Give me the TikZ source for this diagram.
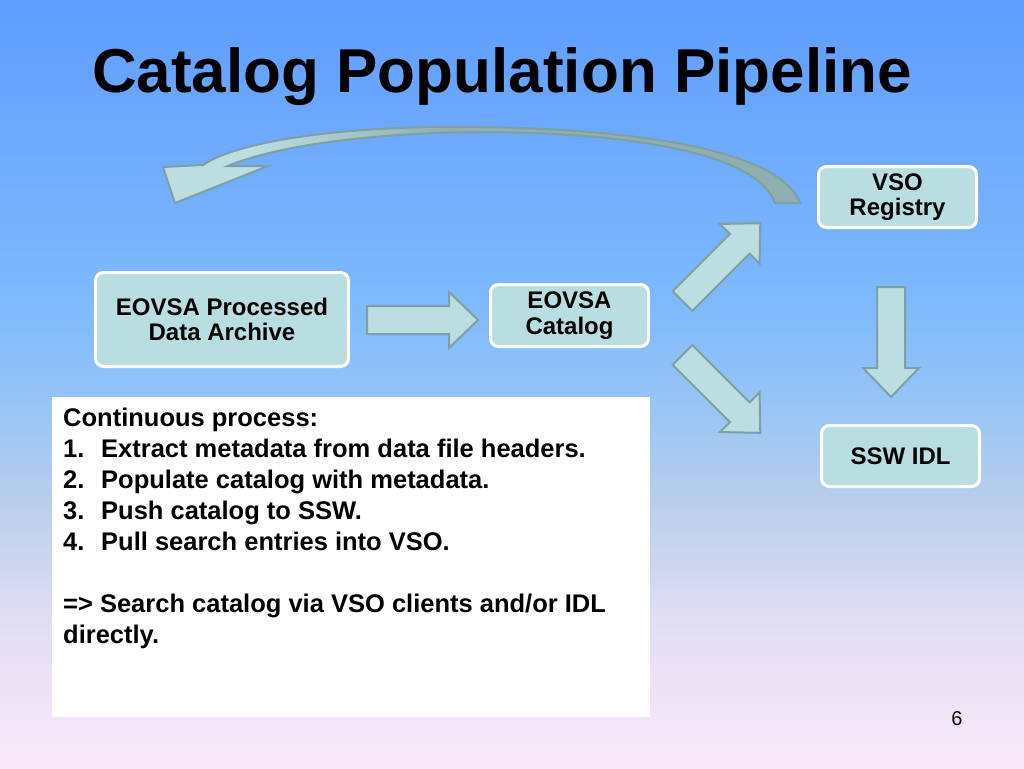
\documentclass[tikz,border=0pt]{standalone}
\usepackage{fontspec}
\setmainfont{Liberation Sans}
\definecolor{bgtop}{RGB}{95,157,255}
\definecolor{bgc4}{RGB}{125,185,252}
\definecolor{bgc3}{RGB}{150,196,246}
\definecolor{bgc2}{RGB}{185,206,236}
\definecolor{bgc1}{RGB}{225,222,242}
\definecolor{bgbot}{RGB}{250,232,250}
\definecolor{boxfill}{RGB}{185,222,225}
\definecolor{armfill}{RGB}{188,222,224}
\definecolor{armborder}{RGB}{125,160,162}
\definecolor{bandgrey}{RGB}{143,175,176}
\pgfdeclareverticalshading{bgshade}{100bp}{color(0bp)=(bgbot); color(25bp)=(bgbot); color(34.6bp)=(bgc1); color(42.4bp)=(bgc2); color(49bp)=(bgc3); color(55.5bp)=(bgc4); color(75bp)=(bgtop); color(100bp)=(bgtop)}
\pgfdeclarehorizontalshading{curveshade}{100bp}{color(0bp)=(armfill); color(32bp)=(armfill); color(47bp)=(bandgrey); color(100bp)=(bandgrey)}
\tikzset{
  box/.style={draw=white, line width=3pt, fill=boxfill, rounded corners=8pt, align=center,
    font=\fontsize{24}{25.5}\selectfont\bfseries, inner sep=2pt},
  blockarrow/.style={fill=armfill, draw=armborder, line width=2pt, line join=miter},
  steptext/.style={font=\fontsize{25.5}{31}\selectfont\bfseries, inner sep=0pt, anchor=base west}
}
\newcommand\myblockarrow[3]{%
  \begin{scope}[shift={#1},rotate=#2]
    \filldraw[blockarrow] (0,-14) -- (#3-29,-14) -- (#3-29,-28) -- (#3,0) -- (#3-29,28) -- (#3-29,14) -- (0,14) -- cycle;
  \end{scope}}
\begin{document}
\begin{tikzpicture}[x=1pt,y=-1pt]
\shade[shading=bgshade] (0,0) rectangle (1024,768);
\useasboundingbox (0,0) rectangle (1024,768);

% title
\node[font=\fontsize{62}{70}\selectfont\bfseries, anchor=base, inner sep=0pt] (title) at (502,92) {Catalog Population Pipeline};

% boxes
\node[box, minimum width=253, minimum height=94] (archive) at (222,319.5) {EOVSA Processed\\Data Archive};
\node[box, minimum width=158, minimum height=62] (catalog) at (569.5,315.5) {EOVSA\\Catalog};
\node[box, minimum width=158, minimum height=61] (vso) at (897.5,197) {VSO\\Registry};
\node[box, minimum width=158, minimum height=61] (ssw) at (900.5,456) {SSW IDL};

% block arrows
\coordinate (a1) at (367,320);
\coordinate (a2) at (682.5,301);
\coordinate (a3) at (682.5,355);
\coordinate (a4) at (891,287);
\myblockarrow{(a1)}{0}{111}
\myblockarrow{(a2)}{45}{110}
\myblockarrow{(a3)}{-45}{110}
\myblockarrow{(a4)}{-90}{110}

% curved arrow
\shadedraw[shading=curveshade, draw=armborder, line width=2pt, line join=miter]
  (800,203) .. controls (785,160) and (680,130) .. (480,127)
  .. controls (350,125) and (240,140) .. (203,165)
  -- (163,167) -- (175,203) -- (268,166) -- (228,166)
  .. controls (270,148) and (360,133) .. (480,132)
  .. controls (660,133) and (760,160) .. (775,203) -- cycle;

% text box
\node[fill=white, minimum width=598, minimum height=320, anchor=north west, inner sep=0pt] (txtbox) at (52,397) {};
\node[steptext] (l0) at (63,426) {Continuous process:};
\node[steptext] (n1) at (63,457) {1.};
\node[steptext] (l1) at (101,457) {Extract metadata from data file headers.};
\node[steptext] (n2) at (63,488) {2.};
\node[steptext] (l2) at (101,488) {Populate catalog with metadata.};
\node[steptext] (n3) at (63,519) {3.};
\node[steptext] (l3) at (101,519) {Push catalog to SSW.};
\node[steptext] (n4) at (63,550) {4.};
\node[steptext] (l4) at (101,550) {Pull search entries into VSO.};
\node[steptext] (l5) at (63,612) {=> Search catalog via VSO clients and/or IDL};
\node[steptext] (l6) at (63,643) {directly.};

% page number
\node[font=\fontsize{20}{24}\selectfont, anchor=base, inner sep=0pt] (pnum) at (957,725) {6};
\end{tikzpicture}
\end{document}
